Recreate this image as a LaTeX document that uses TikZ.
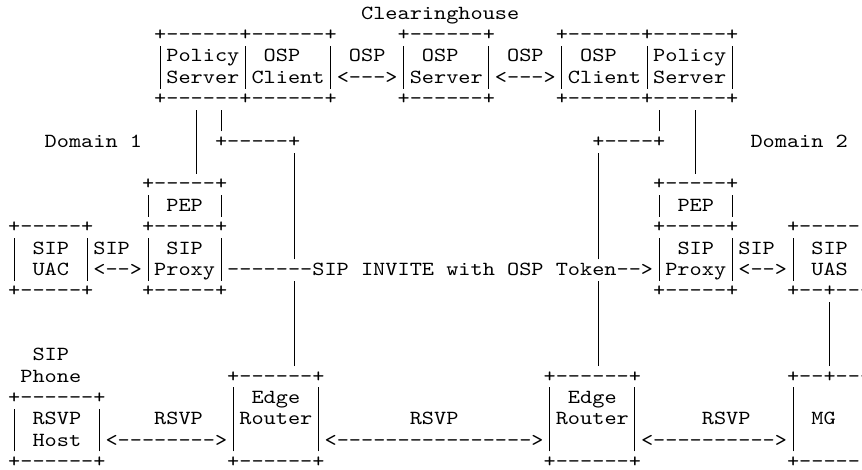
\documentclass[tikz,border=0pt]{standalone}
\usepackage{fontspec}
\newfontfamily\asciifont{lmmono10-regular.otf}[FakeStretch=1.159]
% full-height bar, one character wide, so the bars of stacked lines join up
\newcommand\vb{\makebox[9.1275pt]{\rule[-4pt]{0.7pt}{16pt}}}

\begin{document}
\begin{tikzpicture}[x=9.1275pt,y=-16pt,every node/.style={inner sep=0pt,anchor=base west,font=\asciifont\fontsize{15pt}{16pt}\selectfont}]
    \useasboundingbox (-5.925pt,14.5pt) rectangle (640.575pt,-338pt);

    % clearinghouse
    \node (ch) at (29,0) {Clearinghouse};
    \node (chTopL) at (12,1) {+------+------+};
    \node (chTopM) at (32,1) {+------+};
    \node (chTopR) at (45,1) {+------+------+};
    \node (polL) at (12,2) {\vb Policy\vb{} OSP};
    \node (ospA) at (26,2) {\vb{} OSP \vb};
    \node (ospS) at (34,2) {OSP};
    \node (ospB) at (39,2) {\vb{} OSP \vb};
    \node (ospC) at (47,2) {OSP};
    \node (polR) at (52,2) {\vb Policy\vb};
    \node (srv) at (12,3) {\vb Server\vb Client\vb<--->\vb Server\vb<--->\vb Client\vb Server\vb};
    \node (chBotL) at (12,4) {+------+------+};
    \node (chBotM) at (32,4) {+------+};
    \node (chBotR) at (45,4) {+------+------+};

    % links down from the clearinghouse
    \node (lkL5) at (15,5) {\vb{} \vb};
    \node (lkR5a) at (53,5) {\vb};
    \node (lkR5b) at (56,5) {\vb};
    \node (dom1) at (3,6) {Domain 1};
    \node (lkL6) at (15,6) {\vb{} +-----+};
    \node (lkR6a) at (48,6) {+----+};
    \node (lkR6b) at (56,6) {\vb};
    \node (dom2) at (61,6) {Domain 2};
    \node (lkL7) at (15,7) {\vb};
    \node (lkR7) at (56,7) {\vb};
    \foreach \r in {7,8,9,10,11,13,14,15,16} {
        \node (vl\r) at (23,\r) {\vb};
        \node (vr\r) at (48,\r) {\vb};
    }

    % PEPs, proxies, UAC and UAS
    \node (pepLt) at (11,8) {+-----+};
    \node (pepRt) at (53,8) {+-----+};
    \node (pepL) at (11,9) {\vb{} PEP \vb};
    \node (pepR) at (53,9) {\vb{} PEP \vb};
    \node (uacT) at (0,10) {+-----+};
    \node (pxLt) at (11,10) {+-----+};
    \node (pxRt) at (53,10) {+-----+};
    \node (uasT) at (64,10) {+-----};
    \node (sipL) at (0,11) {\vb{} SIP \vb SIP \vb{} SIP \vb};
    \node (sipR) at (53,11) {\vb{} SIP \vb SIP \vb{} SIP};
    \node (invite) at (0,12) {\vb{} UAC \vb<-->\vb Proxy\vb-------SIP INVITE with OSP Token-->\vb Proxy\vb<-->\vb{} UAS};
    \node (uacB) at (0,13) {+-----+};
    \node (pxLb) at (11,13) {+-----+};
    \node (pxRb) at (53,13) {+-----+};
    \node (uasB) at (64,13) {+--+---};
    \foreach \r in {14,15,16}
        \node (vm\r) at (67,\r) {\vb};

    % RSVP path
    \node (phA) at (2,16) {SIP};
    \node (phB) at (1,17) {Phone};
    \node (erLt) at (18,17) {+------+};
    \node (erRt) at (44,17) {+------+};
    \node (mgT) at (64,17) {+--+---};
    \node (hostT) at (0,18) {+------+};
    \node (erL1) at (18,18) {\vb{} Edge \vb};
    \node (erR1) at (44,18) {\vb{} Edge \vb};
    \node (mgS) at (64,18) {\vb};
    \node (hostA) at (0,19) {\vb{} RSVP \vb};
    \node (rsvpA) at (12,19) {RSVP};
    \node (erL2) at (18,19) {\vb Router\vb};
    \node (rsvpB) at (33,19) {RSVP};
    \node (erR2) at (44,19) {\vb Router\vb};
    \node (rsvpC) at (57,19) {RSVP};
    \node (mg) at (64,19) {\vb{} MG};
    \node (hostB) at (0,20) {\vb{} Host \vb<-------->\vb};
    \node (lnkAB) at (25,20) {\vb<---------------->\vb};
    \node (lnkBC) at (51,20) {\vb<---------->\vb};
    \node (hostBt) at (0,21) {+------+};
    \node (erLb) at (18,21) {+------+};
    \node (erRb) at (44,21) {+------+};
    \node (mgB) at (64,21) {+-----};
\end{tikzpicture}
\end{document}
